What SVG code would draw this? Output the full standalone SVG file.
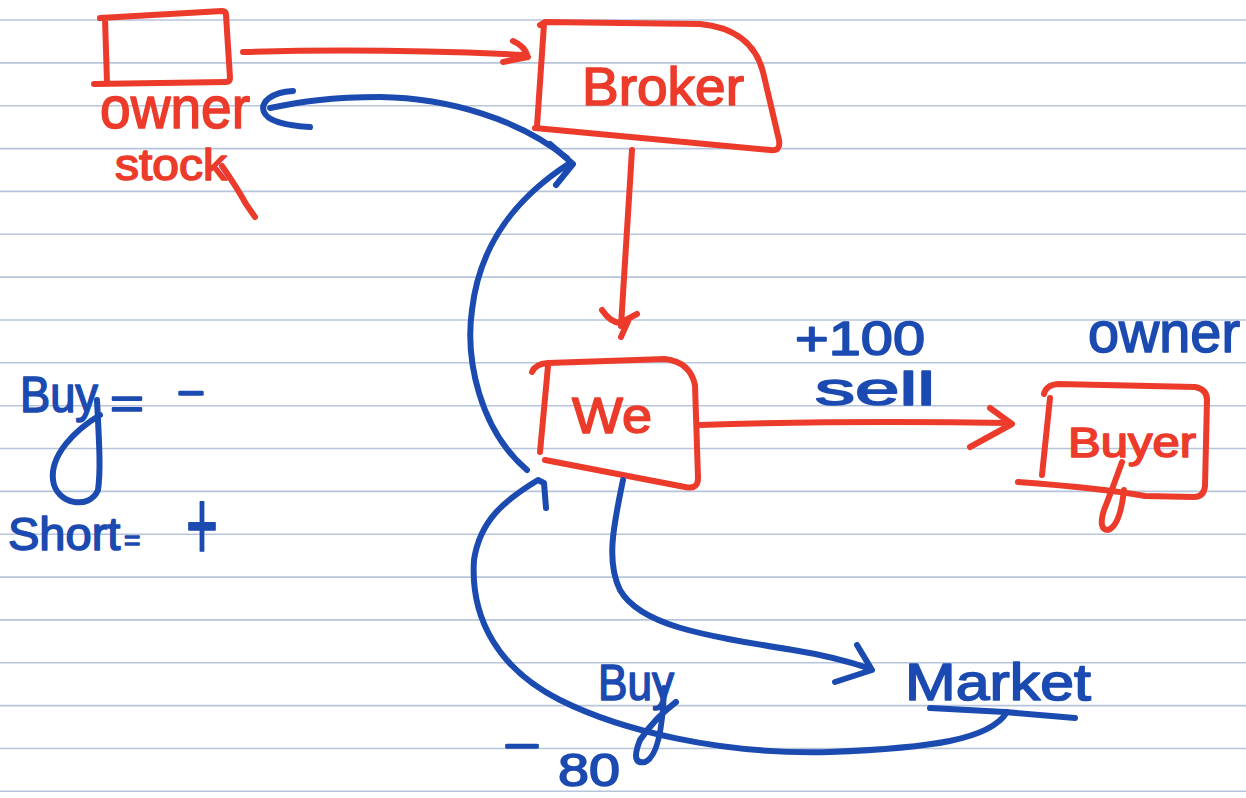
<svg xmlns="http://www.w3.org/2000/svg" width="1246" height="798" viewBox="0 0 1246 798">
  <style>
    .rule { stroke: #b7c5dc; stroke-width: 1.6; }
    .r { fill: none; stroke: #ec3b2b; stroke-width: 6; stroke-linecap: round; stroke-linejoin: round; }
    .b { fill: none; stroke: #1b4ab1; stroke-width: 6; stroke-linecap: round; stroke-linejoin: round; }
    .tr, .tb { font-family: "Liberation Sans", "DejaVu Sans", sans-serif; stroke-width: 1.6; stroke-linejoin: round; }
    .tr { fill: #ec3b2b; stroke: #ec3b2b; }
    .tb { fill: #1b4ab1; stroke: #1b4ab1; }
  </style>

  <rect x="0" y="0" width="1246" height="798" fill="#ffffff"/>

  <!-- ruled paper -->
  <g id="ruled">
    <line class="rule" x1="0" y1="20" x2="1246" y2="20"/>
    <line class="rule" x1="0" y1="62.9" x2="1246" y2="62.9"/>
    <line class="rule" x1="0" y1="105.7" x2="1246" y2="105.7"/>
    <line class="rule" x1="0" y1="148.6" x2="1246" y2="148.6"/>
    <line class="rule" x1="0" y1="191.4" x2="1246" y2="191.4"/>
    <line class="rule" x1="0" y1="234.3" x2="1246" y2="234.3"/>
    <line class="rule" x1="0" y1="277.1" x2="1246" y2="277.1"/>
    <line class="rule" x1="0" y1="320" x2="1246" y2="320"/>
    <line class="rule" x1="0" y1="362.8" x2="1246" y2="362.8"/>
    <line class="rule" x1="0" y1="405.7" x2="1246" y2="405.7"/>
    <line class="rule" x1="0" y1="448.5" x2="1246" y2="448.5"/>
    <line class="rule" x1="0" y1="491.4" x2="1246" y2="491.4"/>
    <line class="rule" x1="0" y1="534.2" x2="1246" y2="534.2"/>
    <line class="rule" x1="0" y1="577.1" x2="1246" y2="577.1"/>
    <line class="rule" x1="0" y1="619.9" x2="1246" y2="619.9"/>
    <line class="rule" x1="0" y1="662.8" x2="1246" y2="662.8"/>
    <line class="rule" x1="0" y1="705.6" x2="1246" y2="705.6"/>
    <line class="rule" x1="0" y1="748.5" x2="1246" y2="748.5"/>
    <line class="rule" x1="0" y1="791.3" x2="1246" y2="791.3"/>
  </g>

  <!-- stock owner -->
  <g id="owner">
    <path class="r" d="M100,18 L222,11 Q226,11 226,15 L230,78 Q230,82 226,82 L94,84 M105,18 L107,83"/>
    <text class="tr" x="100" y="128" font-size="60" textLength="150" lengthAdjust="spacingAndGlyphs">owner</text>
    <text class="tr" x="115" y="180" font-size="44" textLength="112" lengthAdjust="spacingAndGlyphs">stock</text>
    <path class="r" d="M222,166 Q236,186 246,204 L255,217"/>
  </g>

  <!-- broker -->
  <g id="broker">
    <path class="r" d="M540,25 L545,22 L700,24 Q752,29 763,72 L779,140 Q781,152 770,150 L535,128 M544,24 L537,126"/>
    <text class="tr" x="582" y="105" font-size="54" textLength="162" lengthAdjust="spacingAndGlyphs">Broker</text>
  </g>

  <!-- we -->
  <g id="we">
    <path class="r" d="M532,372 Q535,364 548,363 L665,359 Q690,362 695,385 L698,478 Q698,490 685,487 L545,460 M548,366 L540,452"/>
    <text class="tr" x="572" y="433" font-size="50" textLength="80" lengthAdjust="spacingAndGlyphs">We</text>
  </g>

  <!-- buyer -->
  <g id="buyer">
    <path class="r" d="M1044,394 Q1046,385 1058,384 L1195,387 Q1207,389 1207,400 L1205,486 Q1204,497 1194,497 L1145,496 Q1100,488 1018,482 M1050,398 L1042,475"/>
    <text class="tr" x="1068" y="457" font-size="42" textLength="128" lengthAdjust="spacingAndGlyphs">Buyer</text>
    <path class="r" d="M1122,462 Q1112,490 1104,510 Q1098,530 1108,530 Q1120,526 1124,490"/>
  </g>

  <!-- market -->
  <g id="market">
    <text class="tb" x="905" y="700" font-size="52" textLength="186" lengthAdjust="spacingAndGlyphs">Market</text>
    <path class="b" d="M930,708 L1005,712 L1075,718"/>
  </g>

  <!-- side notes -->
  <g id="notes">
    <text class="tb" x="795" y="355" font-size="48" textLength="130" lengthAdjust="spacingAndGlyphs">+100</text>
    <text class="tb" x="815" y="405" font-size="46" textLength="120" lengthAdjust="spacingAndGlyphs">sell</text>
    <text class="tb" x="1088" y="352" font-size="58" textLength="152" lengthAdjust="spacingAndGlyphs">owner</text>

    <text class="tb" x="20" y="412" font-size="50" textLength="78" lengthAdjust="spacingAndGlyphs">Buy</text>
    <path class="b" d="M100,415 C75,430 50,455 53,480 C56,505 90,510 98,490 C101,470 99,440 97,400"/>
    <text class="tb" x="110" y="418" font-size="42" textLength="34" lengthAdjust="spacingAndGlyphs">=</text>
    <text class="tb" x="176" y="405" font-size="42" textLength="30" lengthAdjust="spacingAndGlyphs">-</text>
    <text class="tb" x="8" y="550" font-size="47">Short</text>
    <text class="tb" x="124" y="550" font-size="28">=</text>
    <text class="tb" x="186" y="560" font-size="100" textLength="32" lengthAdjust="spacingAndGlyphs">+</text>

    <text class="tb" x="598" y="700" font-size="50" textLength="76" lengthAdjust="spacingAndGlyphs">Buy</text>
    <path class="b" d="M676,702 Q655,718 640,740 Q630,765 645,762 Q662,755 664,688"/>
    <text class="tb" x="502" y="758" font-size="44" textLength="40" lengthAdjust="spacingAndGlyphs">-</text>
    <text class="tb" x="558" y="786" font-size="46" textLength="62" lengthAdjust="spacingAndGlyphs">80</text>
  </g>

  <!-- flows between parties -->
  <g id="connectors">
    <!-- owner to broker -->
    <path class="r" d="M243,52 Q380,48 525,55 M513,41 Q525,46 528,57 L503,62"/>
    <!-- broker to we -->
    <path class="r" d="M632,150 L621,326 M602,310 Q610,322 620,323 L637,314 M629,319 L621,337"/>
    <!-- we to buyer -->
    <path class="r" d="M700,425 Q850,420 1010,423 M990,408 L1012,424 Q990,436 970,447"/>

    <!-- we back up to broker -->
    <path class="b" d="M527,470 C480,430 465,360 472,310 C480,240 520,195 570,163 M550,144 L573,164 L556,185"/>
    <!-- broker back to owner -->
    <path class="b" d="M567,158 C520,120 450,98 380,97 C330,97 300,102 270,108 M293,91 C272,92 260,102 264,112 C268,122 290,126 310,127"/>
    <!-- we to market -->
    <path class="b" d="M623,480 C615,520 605,560 620,590 C640,625 700,635 793,650 C830,656 850,662 868,668 M857,645 L872,670 L835,682"/>
    <!-- market back to we -->
    <path class="b" d="M1007,712 C990,740 930,748 830,752 C720,755 620,730 560,700 C500,670 470,620 474,560 C480,520 505,500 538,480 L544,483 L546,508"/>
  </g>
</svg>
